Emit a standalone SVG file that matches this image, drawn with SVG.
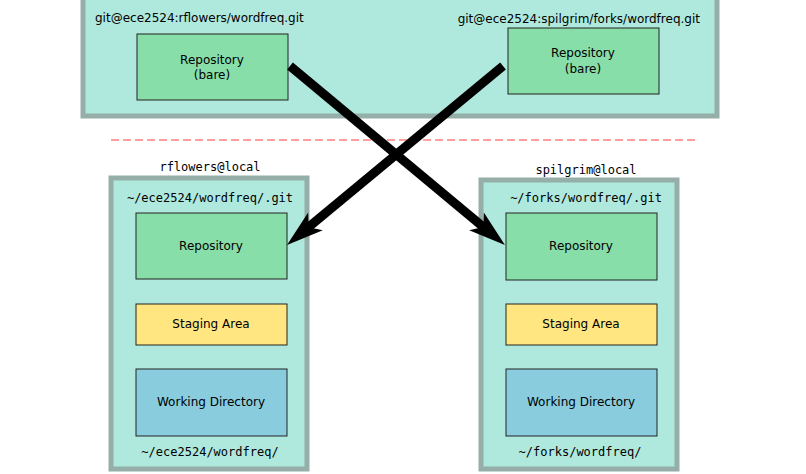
<svg xmlns="http://www.w3.org/2000/svg" width="806" height="474" viewBox="0 0 806 474">
<defs>
<style>
.host{fill:#afe8dd;stroke:#95aea8;stroke-width:5}
.repo{fill:#88dea9;stroke:#222;stroke-width:1}
.stage{fill:#ffe680;stroke:#222;stroke-width:1}
.work{fill:#88ccdd;stroke:#222;stroke-width:1}
.sans{font-family:"DejaVu Sans",sans-serif;font-size:12px;fill:#000}
.mono{font-family:"DejaVu Sans Mono",monospace;font-size:12px;fill:#000}
.mid{text-anchor:middle}
.conn{stroke:#000;stroke-width:9;fill:none;marker-end:url(#head)}
</style>
<marker id="head" markerUnits="userSpaceOnUse" viewBox="0 -12 40 24" markerWidth="40" markerHeight="24" refX="10" refY="0" orient="auto" overflow="visible">
<path d="M37,0 L0,-11.5 L9,0 L0,11.5 Z" fill="#000"/>
</marker>
</defs>
<rect width="806" height="474" fill="#fff"/>
<g id="server">
<rect class="host" x="83" y="-3" width="634" height="119"/>
<text class="sans" x="95" y="22">git@ece2524:rflowers/wordfreq.git</text>
<text class="sans" x="700" y="23" text-anchor="end">git@ece2524:spilgrim/forks/wordfreq.git</text>
</g>
<g id="bare-rflowers">
<rect class="repo" x="137" y="34" width="151" height="66"/>
<text class="sans mid" x="212" y="64">Repository</text>
<text class="sans mid" x="212" y="79">(bare)</text>
</g>
<g id="bare-spilgrim">
<rect class="repo" x="508" y="28" width="151" height="66"/>
<text class="sans mid" x="583" y="57">Repository</text>
<text class="sans mid" x="583" y="73">(bare)</text>
</g>
<line x1="111" y1="140" x2="695" y2="140" stroke="#ff8080" stroke-width="1.3" stroke-dasharray="8,4"/>
<g id="local-rflowers">
<text class="mono mid" x="210" y="171">rflowers@local</text>
<rect class="host" x="111" y="178" width="196" height="291"/>
<text class="mono mid" x="210" y="202">~/ece2524/wordfreq/.git</text>
<text class="mono mid" x="210" y="456">~/ece2524/wordfreq/</text>
</g>
<g id="repo-rflowers">
<rect class="repo" x="136" y="213" width="151" height="66"/>
<text class="sans mid" x="211" y="250">Repository</text>
</g>
<g id="stage-rflowers">
<rect class="stage" x="136" y="304" width="151" height="41"/>
<text class="sans mid" x="211" y="328">Staging Area</text>
</g>
<g id="work-rflowers">
<rect class="work" x="136" y="369" width="151" height="67"/>
<text class="sans mid" x="211" y="406">Working Directory</text>
</g>
<g id="local-spilgrim">
<text class="mono mid" x="586" y="174">spilgrim@local</text>
<rect class="host" x="481" y="180" width="196" height="289"/>
<text class="mono mid" x="586" y="202">~/forks/wordfreq/.git</text>
<text class="mono mid" x="580" y="456">~/forks/wordfreq/</text>
</g>
<g id="repo-spilgrim">
<rect class="repo" x="506" y="213" width="151" height="67"/>
<text class="sans mid" x="581" y="250">Repository</text>
</g>
<g id="stage-spilgrim">
<rect class="stage" x="506" y="304" width="151" height="41"/>
<text class="sans mid" x="581" y="328">Staging Area</text>
</g>
<g id="work-spilgrim">
<rect class="work" x="506" y="369" width="151" height="67"/>
<text class="sans mid" x="581" y="406">Working Directory</text>
</g>
<g id="connectors">
<line class="conn" x1="290" y1="66" x2="484.2" y2="227.7"/>
<line class="conn" x1="503" y1="66" x2="307.8" y2="227.8"/>
</g>
</svg>
